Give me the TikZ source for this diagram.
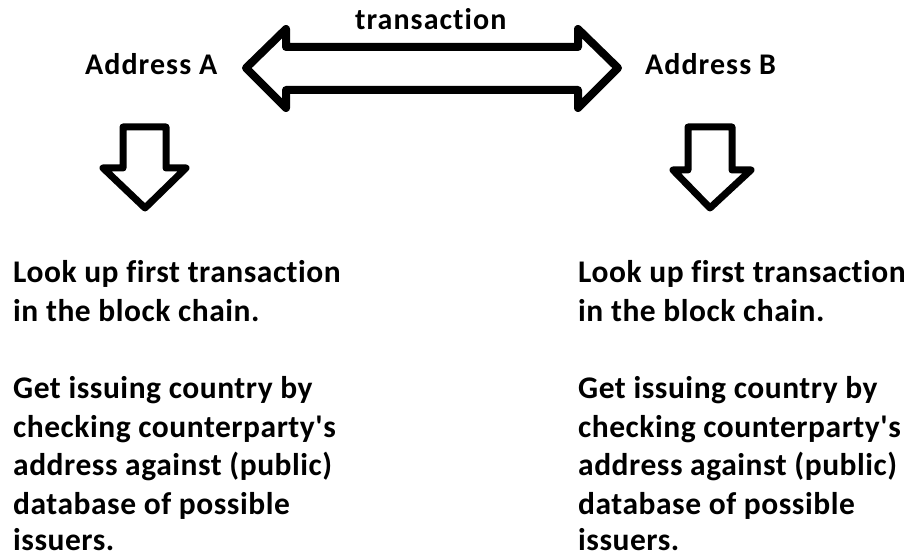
\documentclass[tikz,border=0pt]{standalone}
\usepackage{fontspec}
\setmainfont{Carlito}
\newfontfamily\bodyfont{Carlito}[Ligatures={NoCommon},LetterSpace=1.7]
\newfontfamily\lblfont{Carlito}[Ligatures={NoCommon},LetterSpace=3.5]
\begin{document}
\begin{tikzpicture}[x=1pt,y=-1pt,
  txt/.style={inner sep=0pt,anchor=base west,font=\bodyfont\fontsize{31.5}{38.5}\selectfont\bfseries},
  lbl/.style={inner sep=0pt,anchor=base west,font=\lblfont\fontsize{30}{36}\selectfont\bfseries},
  blockarrow/.style={draw=black,fill=white,line width=8pt,line join=round}]
\useasboundingbox[fill=white] (0,0) rectangle (911,556);
% double arrow
\draw[blockarrow] (246,68) -- (286,29) -- (286,47) -- (578,47) -- (578,29) -- (618,68)
  -- (578,108) -- (578,90) -- (286,90) -- (286,108) -- cycle;
% down arrows
\draw[blockarrow,line width=7pt] (123,127) -- (166,127) -- (166,168) -- (186,168) -- (145,208)
  -- (103,168) -- (123,168) -- cycle;
\draw[blockarrow,line width=7pt] (688,127) -- (732,127) -- (732,170) -- (751,170) -- (710,208)
  -- (673,170) -- (688,170) -- cycle;
% labels
\node[lbl] (tr) at (355,30) {transaction};
\node[lbl] (aa) at (85,75) {Address A};
\node[lbl] (ab) at (645,75) {Address B};
% text blocks
\foreach \s/\x in {l/13,r/578}{
  \node[txt] (\s1) at (\x,283) {Look up first transaction};
  \node[txt] (\s2) at (\x,321.5) {in the block chain.};
  \node[txt] (\s3) at (\x,398.5) {Get issuing country by};
  \node[txt] (\s4) at (\x,437) {checking counterparty's};
  \node[txt] (\s5) at (\x,475.5) {address against (public)};
  \node[txt] (\s6) at (\x,514) {database of possible};
  \node[txt] (\s7) at (\x,550.5) {issuers.};
}
\end{tikzpicture}
\end{document}
